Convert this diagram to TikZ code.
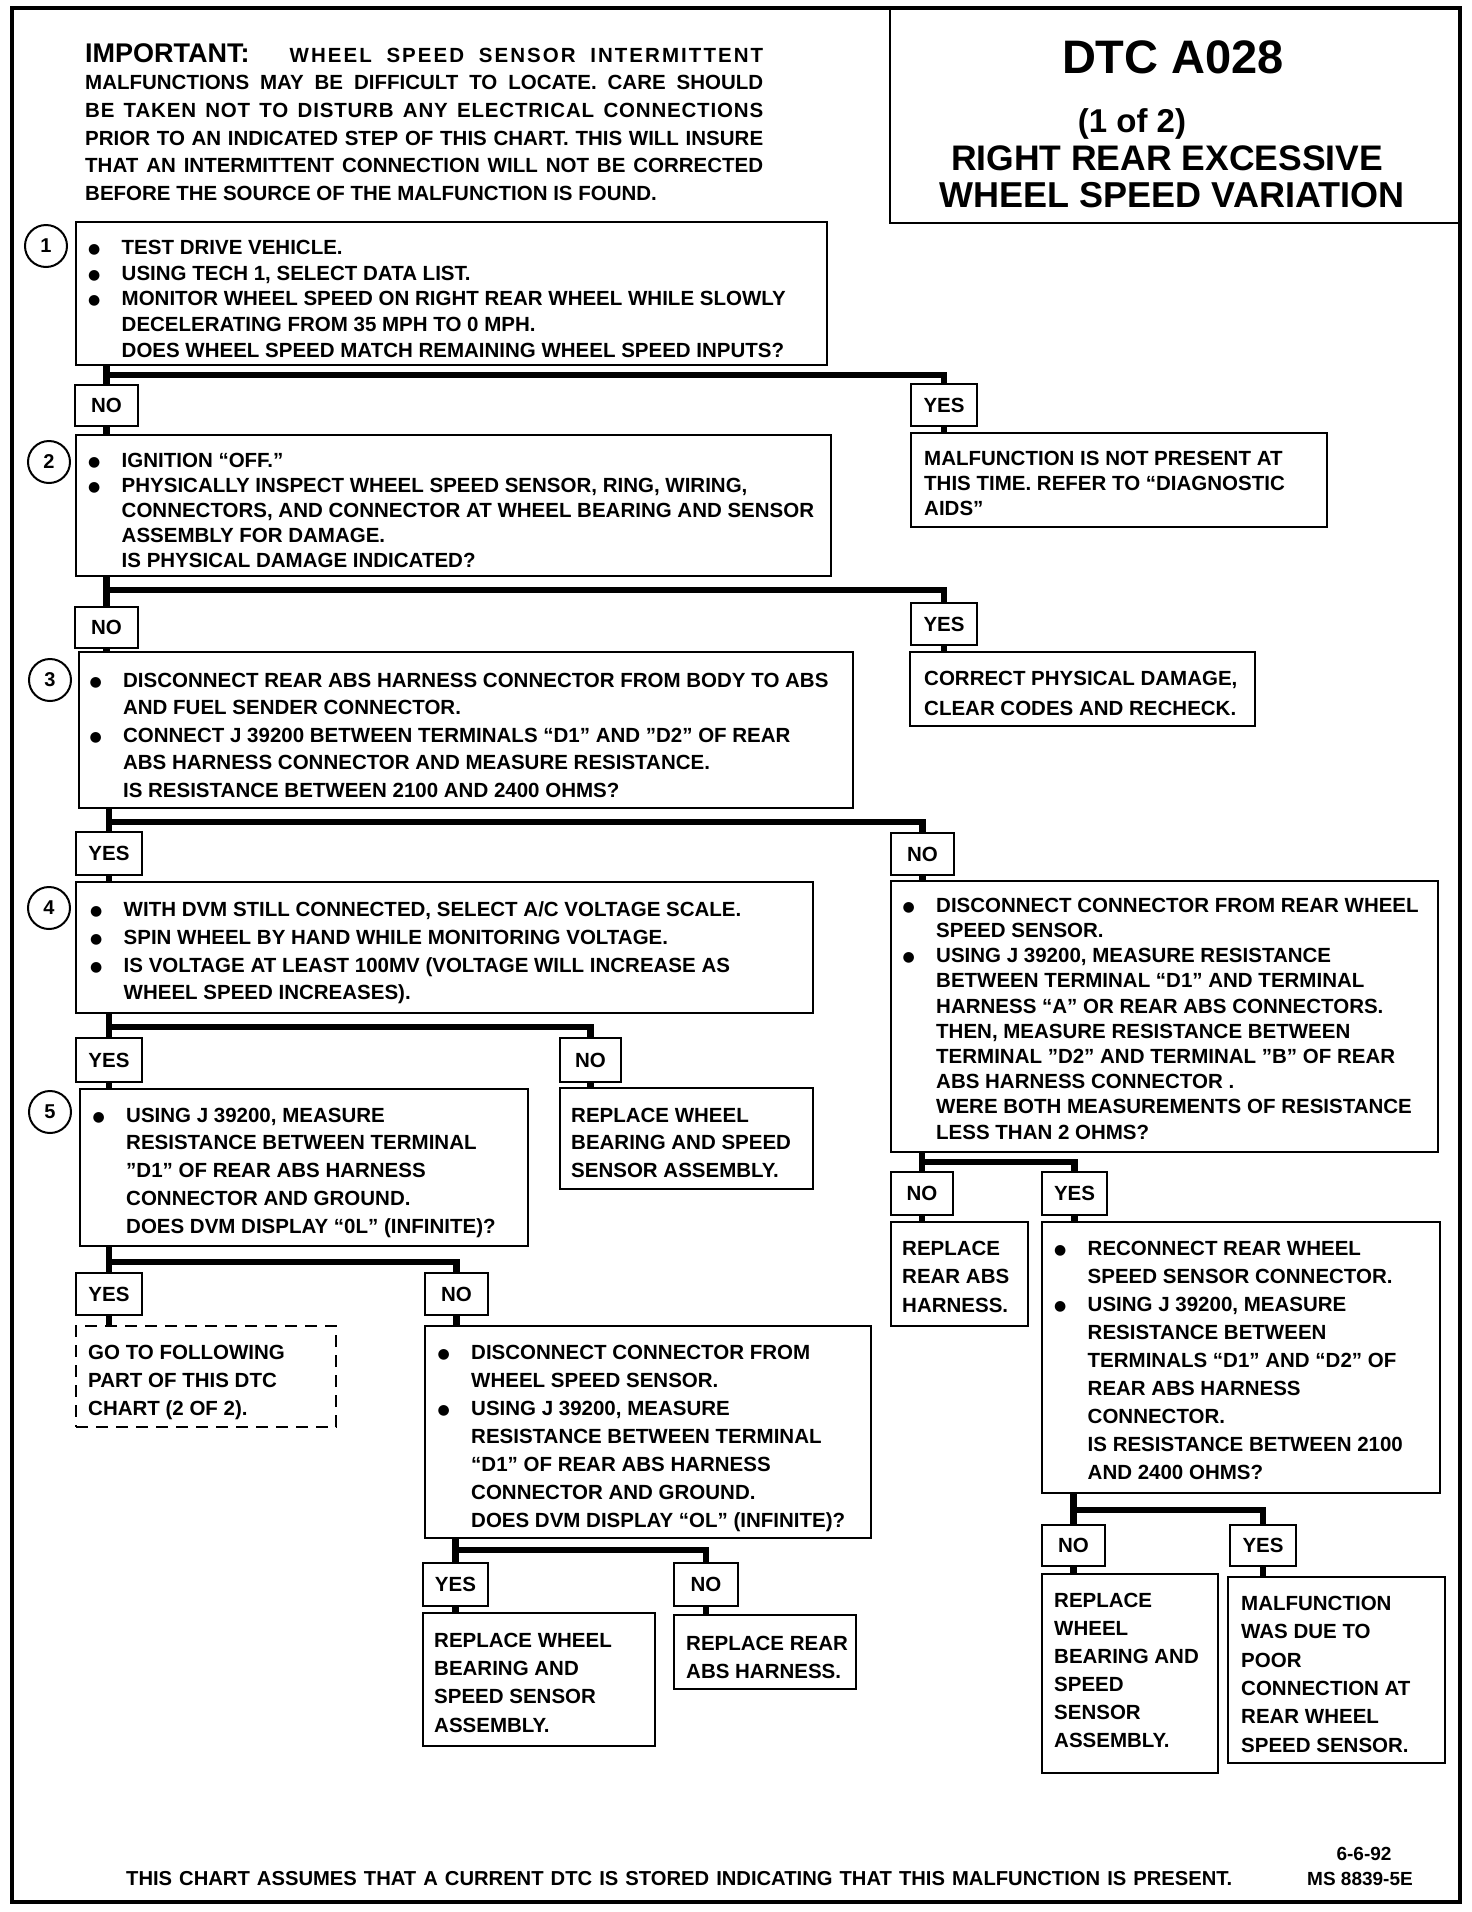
\documentclass[tikz,border=0pt]{standalone}
\usepackage{fontspec}
\setmainfont{Liberation Sans}
\newfontfamily\dvs{DejaVu Sans}
\newcommand\bul{\makebox[33.5pt][l]{\raisebox{1pt}{\dvs\fontsize{14}{14}\selectfont ●}}}
\newcommand\ind{\makebox[33.5pt]{}}
\begin{document}
\begin{tikzpicture}[x=1pt,y=-1pt,
  sz/.style 2 args={minimum width=#1pt, minimum height=#2pt},
  box/.style={draw, line width=2.2pt, rectangle, anchor=north west, inner sep=0pt, outer sep=0pt},
  lab/.style={draw, line width=2.2pt, rectangle, anchor=north west, inner sep=0pt, outer sep=0pt, font=\bfseries\fontsize{20.5}{20.5}\selectfont},
  txt/.style={anchor=north west, inner sep=0pt, align=left, font=\bfseries\fontsize{20.5}{#1}\selectfont},
  hd/.style={anchor=north west, inner sep=0pt, align=left, font=\bfseries\fontsize{20.5}{27.7}\selectfont},
  ttl/.style={anchor=base, inner sep=0pt, font=\bfseries\fontsize{#1}{#1}\selectfont},
  circ/.style={circle, draw, line width=2pt, minimum size=42pt, inner sep=0pt, font=\bfseries\fontsize{20}{20}\selectfont},
  bar/.style={line width=6.5pt, line join=miter},
]
\useasboundingbox (0,0) rectangle (1472,1912);
\fill[white] (0,0) rectangle (1472,1912);

% frame and title
\draw[line width=4pt] (12,8) rectangle (1460,1902);
\node[box, sz={570}{215}, line width=2.5pt] (title) at (890,8) {};
\node[ttl=47] (t1) at (1173,73) {DTC A028};
\node[ttl=33] (t2) at (1132,132) {(1 of 2)};
\node[ttl=35.5] (t3) at (1167,170) {RIGHT REAR EXCESSIVE};
\node[ttl=36] (t4) at (1172,207) {WHEEL SPEED VARIATION};

% header
\node[hd] (hdr) at (85,43) {\makebox[678pt][s]{{\fontsize{27}{27.7}\selectfont IMPORTANT:}\hspace*{40pt}{\addfontfeature{LetterSpace=10}WHEEL SPEED SENSOR INTERMITTENT}}\\
\makebox[678pt][s]{MALFUNCTIONS MAY BE DIFFICULT TO LOCATE. CARE SHOULD}\\
\makebox[678pt][s]{\addfontfeature{LetterSpace=4}BE TAKEN NOT TO DISTURB ANY ELECTRICAL CONNECTIONS}\\
\makebox[678pt][s]{PRIOR TO AN INDICATED STEP OF THIS CHART. THIS WILL INSURE}\\
\makebox[678pt][s]{THAT AN INTERMITTENT CONNECTION WILL NOT BE CORRECTED}\\
BEFORE THE SOURCE OF THE MALFUNCTION IS FOUND.};

% step circles
\node[circ] (c1) at (46,246) {1};
\node[circ] (c2) at (49,462) {2};
\node[circ] (c3) at (50,680) {3};
\node[circ] (c4) at (49,908) {4};
\node[circ] (c5) at (50,1112) {5};

% boxes
\node[box, sz={751}{143}] (b1) at (76,222) {};
\node[box, sz={755}{141}] (b2) at (76,435) {};
\node[box, sz={774}{156}] (b3) at (79,652) {};
\node[box, sz={737}{131}] (b4) at (76,882) {};
\node[box, sz={448}{157}] (b5) at (80,1089) {};
\node[box, sz={253}{101}] (r4) at (560,1088) {};
\node[box, sz={260}{101}, dash pattern=on 12pt off 8pt] (d5) at (76,1326) {};
\node[box, sz={446}{212}] (b6) at (425,1326) {};
\node[box, sz={232}{133}] (r6y) at (423,1613) {};
\node[box, sz={182}{74}] (r6n) at (674,1615) {};
\node[box, sz={416}{94}] (m1) at (911,433) {};
\node[box, sz={345}{74}] (m2) at (910,652) {};
\node[box, sz={547}{271}] (b7) at (891,881) {};
\node[box, sz={137}{104}] (r7n) at (891,1222) {};
\node[box, sz={398}{271}] (b8) at (1042,1222) {};
\node[box, sz={176}{199}] (r8n) at (1042,1574) {};
\node[box, sz={217}{186}] (r8y) at (1228,1577) {};

% labels
\node[lab, sz={63}{41}] (L1no) at (75,385) {NO};
\node[lab, sz={66}{42}] (L1yes) at (911,384) {YES};
\node[lab, sz={63}{41}] (L2no) at (75,607) {NO};
\node[lab, sz={66}{42}] (L2yes) at (911,603) {YES};
\node[lab, sz={66}{43}] (L3yes) at (76,832) {YES};
\node[lab, sz={63}{42}] (L3no) at (891,833) {NO};
\node[lab, sz={66}{44}] (L4yes) at (76,1038) {YES};
\node[lab, sz={61}{44}] (L4no) at (560,1038) {NO};
\node[lab, sz={66}{42}] (L5yes) at (76,1273) {YES};
\node[lab, sz={63}{42}] (L5no) at (425,1273) {NO};
\node[lab, sz={65}{43}] (L6yes) at (423,1563) {YES};
\node[lab, sz={64}{43}] (L6no) at (674,1563) {NO};
\node[lab, sz={62}{43}] (L7no) at (891,1172) {NO};
\node[lab, sz={65}{43}] (L7yes) at (1042,1172) {YES};
\node[lab, sz={63}{41}] (L8no) at (1042,1525) {NO};
\node[lab, sz={66}{41}] (L8yes) at (1230,1525) {YES};

% junctions
\coordinate (j1) at (106.5,375);
\coordinate (j2) at (106.5,590);
\coordinate (j3) at (109,822);
\coordinate (j4) at (109,1027);
\coordinate (j5) at (109,1262);
\coordinate (j6) at (455.5,1550);
\coordinate (j7) at (922,1162);
\coordinate (j8) at (1073.5,1510);

% connectors
\draw[bar] (b1.south -| j1) -- (L1no.north);
\draw[bar] (j1) -| (L1yes.north);
\draw[bar] (L1no.south) -- (L1no.south |- b2.north);
\draw[bar] (L1yes.south) -- (L1yes.south |- m1.north);

\draw[bar] (b2.south -| j2) -- (L2no.north);
\draw[bar] (j2) -| (L2yes.north);
\draw[bar] (L2no.south) -- (L2no.south |- b3.north);
\draw[bar] (L2yes.south) -- (L2yes.south |- m2.north);

\draw[bar] (b3.south -| j3) -- (L3yes.north);
\draw[bar] (j3) -| (L3no.north);
\draw[bar] (L3yes.south) -- (L3yes.south |- b4.north);
\draw[bar] (L3no.south) -- (L3no.south |- b7.north);

\draw[bar] (b4.south -| j4) -- (L4yes.north);
\draw[bar] (j4) -| (L4no.north);
\draw[bar] (L4yes.south) -- (L4yes.south |- b5.north);
\draw[bar] (L4no.south) -- (L4no.south |- r4.north);

\draw[bar] (b5.south -| j5) -- (L5yes.north);
\draw[bar] (j5) -| (L5no.north);
\draw[bar] (L5yes.south) -- (L5yes.south |- d5.north);
\draw[bar] (L5no.south) -- (L5no.south |- b6.north);

\draw[bar] (b6.south -| j6) -- (L6yes.north);
\draw[bar] (j6) -| (L6no.north);
\draw[bar] (L6yes.south) -- (L6yes.south |- r6y.north);
\draw[bar] (L6no.south) -- (L6no.south |- r6n.north);

\draw[bar] (b7.south -| j7) -- (L7no.north);
\draw[bar] (j7) -| (L7yes.north);
\draw[bar] (L7no.south) -- (L7no.south |- r7n.north);
\draw[bar] (L7yes.south) -- (L7yes.south |- b8.north);

\draw[bar] (b8.south -| j8) -- (L8no.north);
\draw[bar] (j8) -| (L8yes.north);
\draw[bar] (L8no.south) -- (L8no.south |- r8n.north);
\draw[bar] (L8yes.south) -- (L8yes.south |- r8y.north);

% texts
\node[txt=25.8] (b1t) at (88,239.7) {\bul TEST DRIVE VEHICLE.\\
\bul USING TECH 1, SELECT DATA LIST.\\
\bul MONITOR WHEEL SPEED ON RIGHT REAR WHEEL WHILE SLOWLY\\
\ind DECELERATING FROM 35 MPH TO 0 MPH.\\
\ind DOES WHEEL SPEED MATCH REMAINING WHEEL SPEED INPUTS?};

\node[txt=25] (b2t) at (88,452.7) {\bul IGNITION “OFF.”\\
\bul PHYSICALLY INSPECT WHEEL SPEED SENSOR, RING,  WIRING,\\
\ind CONNECTORS, AND CONNECTOR AT WHEEL BEARING AND SENSOR\\
\ind ASSEMBLY FOR DAMAGE.\\
\ind IS PHYSICAL DAMAGE INDICATED?};

\node[txt=27.5] (b3t) at (89.4,672.7) {\bul DISCONNECT REAR ABS HARNESS CONNECTOR FROM BODY TO ABS\\
\ind AND FUEL SENDER CONNECTOR.\\
\bul CONNECT J 39200 BETWEEN TERMINALS “D1” AND ”D2” OF REAR\\
\ind ABS HARNESS CONNECTOR AND MEASURE RESISTANCE.\\
\ind IS RESISTANCE BETWEEN 2100 AND 2400 OHMS?};

\node[txt=27.7] (b4t) at (90,901.7) {\bul WITH DVM STILL CONNECTED, SELECT A/C VOLTAGE SCALE.\\
\bul SPIN WHEEL BY HAND WHILE MONITORING VOLTAGE.\\
\bul IS VOLTAGE AT LEAST 100MV (VOLTAGE WILL INCREASE AS\\
\ind WHEEL SPEED INCREASES).};

\node[txt=27.75] (b5t) at (92.5,1107.7) {\bul USING J 39200, MEASURE\\
\ind RESISTANCE BETWEEN TERMINAL\\
\ind ”D1” OF REAR ABS HARNESS\\
\ind CONNECTOR AND GROUND.\\
\ind DOES DVM DISPLAY “0L” (INFINITE)?};

\node[txt=27.5] (r4t) at (571,1107.7) {REPLACE WHEEL\\ BEARING AND SPEED\\ SENSOR ASSEMBLY.};

\node[txt=28] (d5t) at (88,1344.7) {GO TO FOLLOWING\\ PART OF THIS DTC\\ CHART (2 OF 2).};

\node[txt=28] (b6t) at (437.5,1344.7) {\bul DISCONNECT CONNECTOR FROM\\
\ind WHEEL SPEED SENSOR.\\
\bul USING J 39200, MEASURE\\
\ind RESISTANCE BETWEEN TERMINAL\\
\ind “D1” OF REAR ABS HARNESS\\
\ind CONNECTOR AND GROUND.\\
\ind DOES DVM DISPLAY “OL” (INFINITE)?};

\node[txt=28.3] (r6yt) at (434,1632.7) {REPLACE WHEEL\\ BEARING AND\\ SPEED SENSOR\\ ASSEMBLY.};
\node[txt=28] (r6nt) at (686,1635.7) {REPLACE REAR\\ ABS HARNESS.};

\node[txt=25] (m1t) at (924,450.7) {MALFUNCTION IS NOT PRESENT AT\\ THIS TIME. REFER TO “DIAGNOSTIC\\ AIDS”};
\node[txt=30] (m2t) at (924,670.7) {CORRECT PHYSICAL DAMAGE,\\ CLEAR CODES AND RECHECK.};

\node[txt=25.2] (b7t) at (902.5,897.7) {\bul DISCONNECT CONNECTOR FROM REAR WHEEL\\
\ind SPEED SENSOR.\\
\bul USING J 39200, MEASURE RESISTANCE\\
\ind BETWEEN TERMINAL “D1” AND TERMINAL\\
\ind HARNESS “A” OR REAR ABS CONNECTORS.\\
\ind THEN, MEASURE RESISTANCE BETWEEN\\
\ind TERMINAL ”D2” AND TERMINAL ”B” OF REAR\\
\ind ABS HARNESS CONNECTOR .\\
\ind WERE BOTH MEASUREMENTS OF RESISTANCE\\
\ind LESS THAN 2 OHMS?};

\node[txt=28.5] (r7nt) at (902,1240.7) {REPLACE\\ REAR ABS\\ HARNESS.};

\node[txt=28] (b8t) at (1054,1240.7) {\bul RECONNECT REAR WHEEL\\
\ind SPEED SENSOR CONNECTOR.\\
\bul USING J 39200, MEASURE\\
\ind RESISTANCE BETWEEN\\
\ind TERMINALS “D1” AND “D2” OF\\
\ind REAR ABS HARNESS\\
\ind CONNECTOR.\\
\ind IS RESISTANCE BETWEEN 2100\\
\ind AND 2400 OHMS?};

\node[txt=28] (r8nt) at (1054,1592.7) {REPLACE\\ WHEEL\\ BEARING AND\\ SPEED\\ SENSOR\\ ASSEMBLY.};
\node[txt=28.4] (r8yt) at (1241,1595.7) {MALFUNCTION\\ WAS DUE TO\\ POOR\\ CONNECTION AT\\ REAR WHEEL\\ SPEED SENSOR.};

% footer
\node[anchor=base west, inner sep=0pt, font=\bfseries\fontsize{20.2}{20.2}\selectfont] (foot) at (126,1885) {\makebox[1106pt][s]{THIS CHART ASSUMES THAT A CURRENT DTC IS STORED INDICATING THAT THIS MALFUNCTION IS PRESENT.}};
\node[ttl=19] (date) at (1364,1860) {6-6-92};
\node[ttl=19] (ms) at (1360,1885) {MS 8839-5E};
\end{tikzpicture}
\end{document}
